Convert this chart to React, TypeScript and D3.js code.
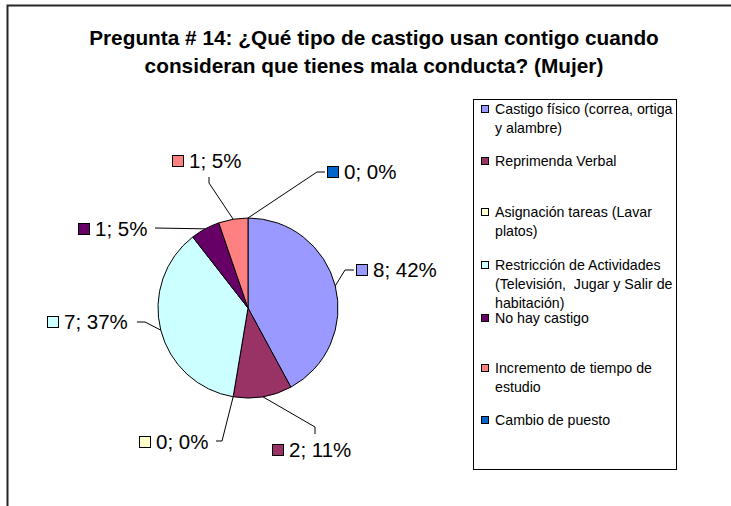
import React from 'react';
import * as d3 from 'd3';

const titleLines = [
  'Pregunta # 14: ¿Qué tipo de castigo usan contigo cuando',
  'consideran que tienes mala conducta? (Mujer)',
];
const categories = [
  'Castigo físico (correa, ortiga y alambre)',
  'Reprimenda Verbal',
  'Asignación tareas (Lavar platos)',
  'Restricción de Actividades (Televisión,  Jugar y Salir de habitación)',
  'No hay castigo',
  'Incremento de tiempo de estudio',
  'Cambio de puesto',
];
const legendLines = [
  ['Castigo físico (correa, ortiga', 'y alambre)'],
  ['Reprimenda Verbal'],
  ['Asignación tareas (Lavar', 'platos)'],
  ['Restricción de Actividades', '(Televisión,  Jugar y Salir de', 'habitación)'],
  ['No hay castigo'],
  ['Incremento de tiempo de', 'estudio'],
  ['Cambio de puesto'],
];
const values = [8, 2, 0, 7, 1, 1, 0];
const colors = ['#9999FF', '#993366', '#FFFFCC', '#CCFFFF', '#660066', '#FF8080', '#0066CC'];

// layout (positions only)
const W = 731, H = 506;
const CX = 248, CY = 308, R = 90;
const FONT = '"Liberation Sans", Arial, sans-serif';
const legendBox = { x: 473, y: 99, w: 203, h: 370 };
const legendLineY = [[109, 128], [161], [212, 231], [265, 284, 303], [318], [368, 387], [420]];
const labelLayout = [
  { sx: 356, cy: 270, pts: [[345, 270], [354, 270]] },
  { sx: 272, cy: 450, pts: [[315, 427], [315, 434]] },
  { sx: 139, cy: 442, pts: [[222, 441], [216, 441]] },
  { sx: 47, cy: 322, pts: [[145, 322], [137, 322]] },
  { sx: 78, cy: 229, pts: [[155, 228]] },
  { sx: 172, cy: 161, pts: [[209, 183], [209, 177]] },
  { sx: 327, cy: 172, pts: [[317, 172], [325, 172]] },
];

export default function App() {
  const total = d3.sum(values);
  const pie = d3.pie<number>().sort(null).value((d) => d).startAngle(0).endAngle(2 * Math.PI);
  const arcs = pie(values);
  const arc = d3.arc<d3.PieArcDatum<number>>().innerRadius(0).outerRadius(R);
  const edge = d3.arc<d3.PieArcDatum<number>>().innerRadius(R).outerRadius(R);
  const line = d3.line();

  return (
    <svg width={W} height={H} style={{ position: 'absolute', left: 0, top: 0, background: '#fff' }} fontFamily={FONT}>
      <rect x={0} y={0} width={W} height={H} fill="#fff" />
      <path d={`M7.5,${H} V5.5 H${W}`} fill="none" stroke="#262626" strokeWidth={2} />
      {titleLines.map((t, i) => (
        <text key={i} x={374} y={45 + i * 28} textAnchor="middle" fontWeight="bold" fontSize={20.8} fill="#000">
          {t}
        </text>
      ))}
      <g transform={`translate(${CX},${CY})`}>
        {arcs.filter((a) => a.value > 0).map((a) => (
          <path key={a.index} d={arc(a) || ''} fill={colors[a.index]} stroke="#000" strokeWidth={1} />
        ))}
      </g>
      {arcs.map((a) => {
        const [ax, ay] = edge.centroid(a);
        const L = labelLayout[a.index];
        const pts: [number, number][] = [[CX + ax, CY + ay], ...(L.pts as [number, number][])];
        const pct = Math.round((a.value / total) * 100);
        return (
          <g key={a.index}>
            <path d={line(pts) || ''} fill="none" stroke="#000" strokeWidth={1} />
            <rect x={L.sx + 0.5} y={L.cy - 5.5} width={11} height={11} fill={colors[a.index]} stroke="#000" strokeWidth={1} />
            <text x={L.sx + 17} y={L.cy} dy="0.36em" fontSize={20.5} fill="#000">
              {`${a.value}; ${pct}%`}
            </text>
          </g>
        );
      })}
      <rect x={legendBox.x + 0.5} y={legendBox.y + 0.5} width={legendBox.w} height={legendBox.h} fill="#fff" stroke="#000" strokeWidth={1} />
      {categories.map((c, i) => (
        <g key={c}>
          <rect x={481.5} y={legendLineY[i][0] - 3.5} width={7} height={7} fill={colors[i]} stroke="#000" strokeWidth={1} />
          {legendLines[i].map((t, j) => (
            <text key={j} x={495} y={legendLineY[i][j]} dy="0.36em" fontSize={14.2} fill="#000" style={{ whiteSpace: 'pre' }}>
              {t}
            </text>
          ))}
        </g>
      ))}
    </svg>
  );
}
